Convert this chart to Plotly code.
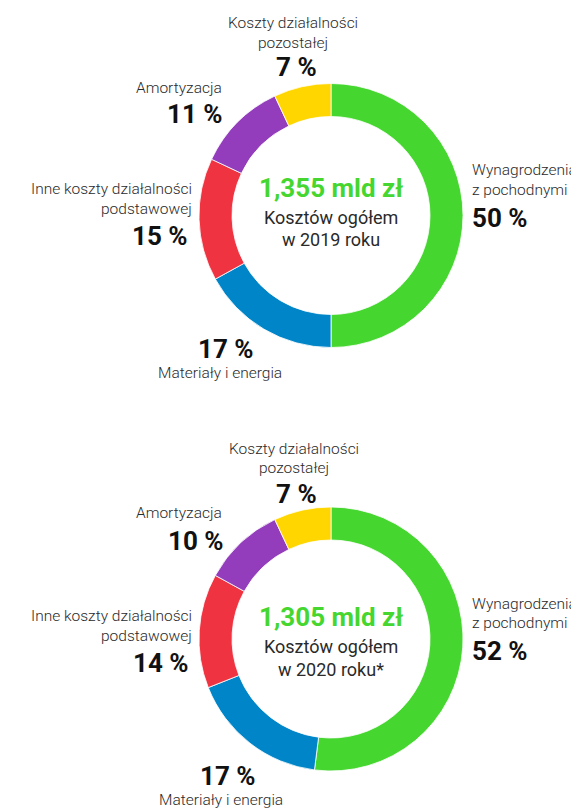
import plotly.graph_objects as go

# ---- data ----
categories = ["Wynagrodzenia z pochodnymi", "Materiały i energia",
              "Inne koszty działalności podstawowej", "Amortyzacja",
              "Koszty działalności pozostałej"]
label_lines = [["Wynagrodzenia", "z pochodnymi"], ["Materiały i energia"],
               ["Inne koszty działalności", "podstawowej"], ["Amortyzacja"],
               ["Koszty działalności", "pozostałej"]]
values_2019 = [50, 17, 15, 11, 7]
values_2020 = [52, 17, 14, 10, 7]
totals = ["1,355 mld zł", "1,305 mld zł"]
subtitles = ["Kosztów ogółem", "Kosztów ogółem"]
years = ["w 2019 roku", "w 2020 roku*"]

colors = ["#45D62F", "#0086C8", "#EF3340", "#933DBD", "#FFD600"]

# page body has an 8px margin: the figure is sized to fit the window exactly
OFF = 8
W, H = 579 - OFF, 810 - OFF
CX, R = 331, 132
centers_y = [215.5, 639.0]

FONT = "Roboto"
LBL = dict(family=FONT, size=15.5, color="#2a2a2a", weight=300)
PCT = dict(family=FONT, size=26, color="#111111", weight=700)


def py(y):
    return 1 - (y - OFF) / H


def px(x):
    return (x - OFF) / W


fig = go.Figure()
for vals, cy in zip([values_2019, values_2020], centers_y):
    fig.add_trace(go.Pie(
        labels=categories, values=vals, hole=0.75, sort=False,
        direction="clockwise", rotation=0,
        marker=dict(colors=colors, line=dict(color="white", width=0.8)),
        textinfo="none", hoverinfo="label+percent",
        domain=dict(x=[px(CX - R), px(CX + R)], y=[py(cy + R), py(cy - R)]),
    ))

# label layout per chart: category -> (x, anchor, [line y centers], pct y, pct x)
layouts = [
    {
        0: (470, "left", [170.5, 190.5], 217.5, 470),
        1: (220, "center", [373.0], 349.0, 226),
        2: (194, "right", [188.5, 208.5], 235.5, 190),
        3: (224, "right", [87.5], 114.0, 225),
        4: (292.5, "center", [23.5, 42.5], 67.0, 296),
    },
    {
        0: (470, "left", [603.5, 623.0], 650.5, 470),
        1: (221, "center", [800.0], 776.0, 228),
        2: (194, "right", [615.5, 635.5], 662.5, 191),
        3: (224, "right", [512.5], 540.5, 226),
        4: (294, "center", [448.5, 467.5], 494.0, 296),
    },
]
center_y = [(187.5, 217.0, 240.0), (616.5, 646.5, 669.5)]

annotations = []
for ci, vals in enumerate([values_2019, values_2020]):
    for k, lines in enumerate(label_lines):
        x, anchor, ys, ypct, xpct = layouts[ci][k]
        for line, yy in zip(lines, ys):
            annotations.append(dict(text=line, x=px(x), y=py(yy), xref="paper", yref="paper",
                                    xanchor=anchor, yanchor="middle", showarrow=False, font=LBL))
        annotations.append(dict(text=f"{vals[k]} %", x=px(xpct), y=py(ypct), xref="paper",
                                yref="paper", xanchor=anchor, yanchor="middle",
                                showarrow=False, font=PCT))
    y1, y2, y3 = center_y[ci]
    annotations.append(dict(text=totals[ci], x=px(CX), y=py(y1), xref="paper", yref="paper",
                            xanchor="center", yanchor="middle", showarrow=False,
                            font=dict(family=FONT, size=26, color="#45D62F", weight=700)))
    annotations.append(dict(text=subtitles[ci], x=px(CX), y=py(y2), xref="paper", yref="paper",
                            xanchor="center", yanchor="middle", showarrow=False,
                            font=dict(family=FONT, size=18, color="#2a2a2a", weight=400)))
    annotations.append(dict(text=years[ci], x=px(CX), y=py(y3), xref="paper", yref="paper",
                            xanchor="center", yanchor="middle", showarrow=False,
                            font=dict(family=FONT, size=18, color="#2a2a2a", weight=400)))

fig.update_layout(
    width=W, height=H, margin=dict(l=0, r=0, t=0, b=0),
    paper_bgcolor="white", plot_bgcolor="white",
    showlegend=False, annotations=annotations,
)

fig.write_html("out.html")
